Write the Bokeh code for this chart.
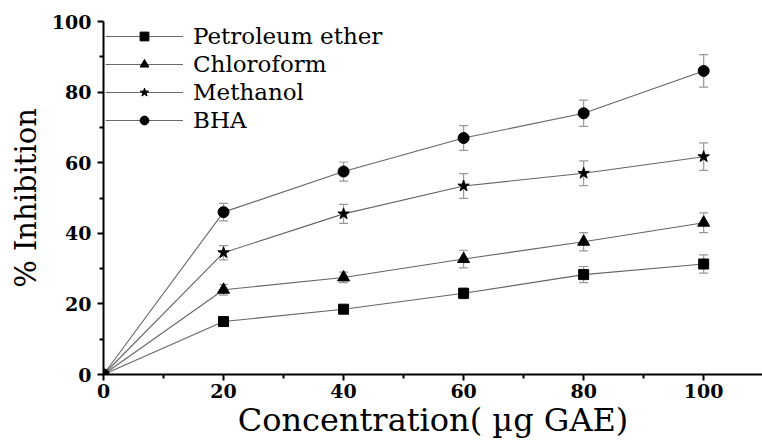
from bokeh.plotting import figure
from bokeh.models import ColumnDataSource, Whisker, TeeHead, Legend, LegendItem, FixedTicker, Range1d
from bokeh.embed import file_html
from bokeh.resources import INLINE

conc = [0, 20, 40, 60, 80, 100]
pet_ether = [0, 15, 18.5, 23, 28.3, 31.3]
pet_err = [0, 1.0, 1.0, 1.5, 2.3, 2.6]
chloroform = [0, 24, 27.5, 32.7, 37.6, 43]
chl_err = [0, 1.5, 1.5, 2.5, 2.6, 2.8]
methanol = [0, 34.5, 45.5, 53.4, 57, 61.7]
meth_err = [0, 2.0, 2.7, 3.5, 3.5, 3.9]
bha = [0, 46, 57.5, 67, 74, 86]
bha_err = [0, 2.5, 2.7, 3.5, 3.7, 4.6]

series = [
    ("Petroleum ether", pet_ether, pet_err, "square", 10),
    ("Chloroform", chloroform, chl_err, "triangle", 12),
    ("Methanol", methanol, meth_err, "star", 12),
    ("BHA", bha, bha_err, "circle", 11),
]

FONT = "DejaVu Serif"

p = figure(width=762, height=441, output_backend="svg", toolbar_location=None,
           x_range=Range1d(0, 109.8), y_range=Range1d(0, 100),
           min_border_left=103, min_border_right=0, min_border_top=21, min_border_bottom=67)
p.xgrid.visible = False
p.ygrid.visible = False
p.outline_line_color = None
p.background_fill_color = "white"

items = []
for name, ys, errs, marker, size in series:
    lo = [y - e for y, e in zip(ys, errs)]
    hi = [y + e for y, e in zip(ys, errs)]
    src = ColumnDataSource(dict(x=conc, y=ys, lo=lo, hi=hi))
    w = Whisker(source=src, base="x", upper="hi", lower="lo",
                line_color="#999999", line_width=1.2,
                upper_head=TeeHead(size=9, line_color="#999999", line_width=1.2),
                lower_head=TeeHead(size=9, line_color="#999999", line_width=1.2))
    p.add_layout(w)
    l = p.line("x", "y", source=src, line_color="#666666", line_width=1.1)
    s = p.scatter("x", "y", source=src, marker=marker, size=size,
                  fill_color="black", line_color="black")
    items.append(LegendItem(label=name, renderers=[l, s]))

legend = Legend(items=items, location="top_left", border_line_color=None,
                background_fill_alpha=0, label_text_font=FONT, label_text_color="black",
                label_text_font_size="23px", glyph_width=78, glyph_height=22,
                label_height=22, spacing=2, padding=0, margin=2, label_standoff=10)
p.add_layout(legend)

for ax in (p.xaxis, p.yaxis):
    ax.axis_line_width = 2
    ax.axis_line_color = "black"
    ax.major_tick_line_width = 2
    ax.minor_tick_line_width = 2
    ax.major_tick_out = 6
    ax.major_tick_in = 0
    ax.minor_tick_out = 4
    ax.minor_tick_in = 0
    ax.major_label_text_font = FONT
    ax.major_label_text_font_style = "bold"
    ax.major_label_text_font_size = "19px"
    ax.major_label_text_color = "black"
    ax.axis_label_text_font = FONT
    ax.axis_label_text_font_style = "normal"
    ax.axis_label_text_color = "black"

p.xaxis.ticker = FixedTicker(ticks=[0, 20, 40, 60, 80, 100], minor_ticks=[10, 30, 50, 70, 90])
p.yaxis.ticker = FixedTicker(ticks=[0, 20, 40, 60, 80, 100], minor_ticks=[10, 30, 50, 70, 90])
p.xaxis.axis_label = "Concentration( \u00b5g GAE)"
p.yaxis.axis_label = "% Inhibition"
p.xaxis.axis_label_text_font_size = "32px"
p.yaxis.axis_label_text_font_size = "29px"
p.xaxis.axis_label_standoff = 0
p.yaxis.axis_label_standoff = 6
p.xaxis.major_label_standoff = 3
p.yaxis.major_label_standoff = 6

open("out.html", "w").write(file_html(p, INLINE))
